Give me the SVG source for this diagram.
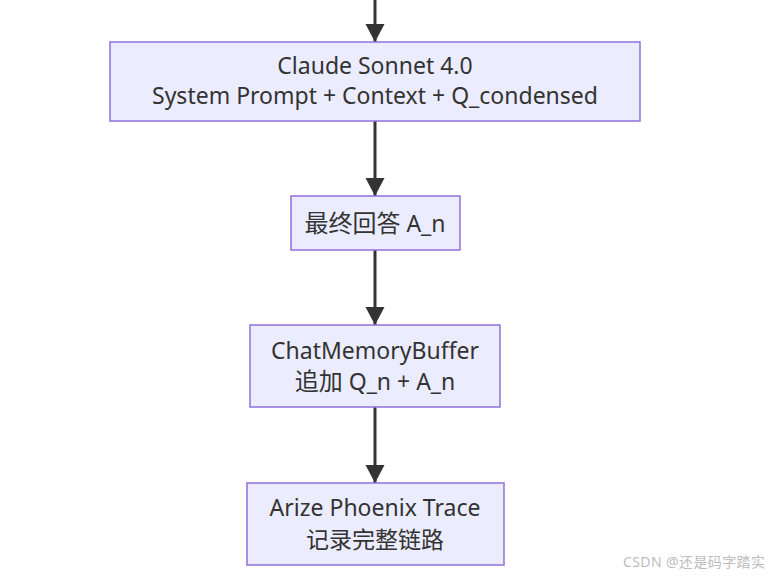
<svg xmlns="http://www.w3.org/2000/svg" width="774" height="576" viewBox="0 0 774 576">
<style>
.node rect{fill:#ECECFF;stroke:#9370DB;stroke-width:1.5}
.node text{font-family:"Noto Sans","Open Sans","Noto Sans CJK SC",sans-serif;font-size:23px;fill:#333;text-anchor:middle}
.cjk{font-size:24px}
.edge{stroke:#333;stroke-width:3;fill:none;marker-end:url(#arrow)}
.wm{font-family:"Noto Sans","Noto Sans CJK SC",sans-serif;font-size:14px;fill:#bdbdbd;letter-spacing:0.4px}
</style>
<defs>
<marker id="arrow" markerUnits="userSpaceOnUse" markerWidth="20" markerHeight="20" refX="18" refY="9.5" orient="auto">
<path d="M0,0 L18,9.5 L0,19 z" fill="#333"/>
</marker>
</defs>
<rect width="774" height="576" fill="#fff"/>
<g id="edges">
<path class="edge" d="M375,0 L375,42"/>
<path class="edge" d="M375,121 L375,196"/>
<path class="edge" d="M375,250 L375,325"/>
<path class="edge" d="M375,407 L375,483"/>
</g>
<g id="node-llm" class="node">
<rect x="110" y="42" width="530" height="79"/>
<text x="375" y="74">Claude Sonnet 4.0</text>
<text x="375" y="104">System Prompt + Context + Q_condensed</text>
</g>
<g id="node-answer" class="node">
<rect x="291" y="196" width="169" height="54"/>
<text x="375" y="232"><tspan class="cjk">最终回答</tspan> A_n</text>
</g>
<g id="node-memory" class="node">
<rect x="250" y="325" width="250" height="82"/>
<text x="375" y="359">ChatMemoryBuffer</text>
<text x="375" y="390"><tspan class="cjk">追加</tspan> Q_n + A_n</text>
</g>
<g id="node-trace" class="node">
<rect x="247" y="483" width="257" height="82"/>
<text x="375" y="516">Arize Phoenix Trace</text>
<text x="375" y="548" class="cjk">记录完整链路</text>
</g>
<text class="wm" x="623" y="567">CSDN @还是码字踏实</text>
</svg>
